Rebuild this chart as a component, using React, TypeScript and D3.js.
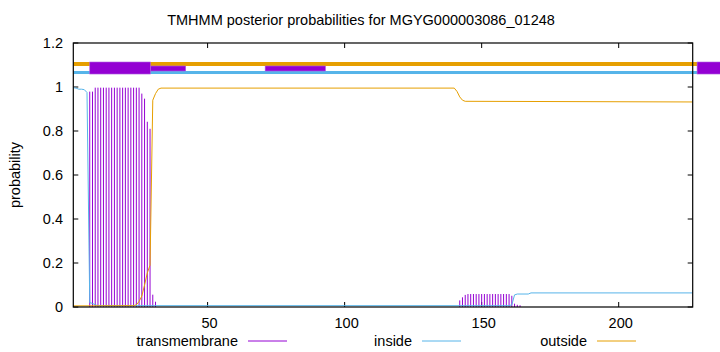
import React from "react";
import * as d3 from "d3";

const title = "TMHMM posterior probabilities for MGYG000003086_01248";
const seqLength = 227;
const xTicks = [50, 100, 150, 200];
const yTicks = [0, 0.2, 0.4, 0.6, 0.8, 1, 1.2];

// transmembrane posterior probability per residue (impulses), [residue, prob]
const tmResidues = [7, 8, 9, 10, 11, 12, 13, 14, 15, 16, 17, 18, 19, 20, 21, 22, 23, 24, 25, 26, 27, 28, 29, 30, 31,
  142, 143, 144, 145, 146, 147, 148, 149, 150, 151, 152, 153, 154, 155, 156, 157, 158, 159, 160, 161, 162, 163, 164];
const tmValues = [0.979, 0.979, 0.997, 0.997, 0.997, 0.997, 0.997, 0.997, 0.997, 0.997, 0.997, 0.997, 0.997, 0.997, 0.997, 0.997, 0.997, 0.997, 0.997, 0.97, 0.947, 0.842, 0.81, 0.056, 0.024,
  0.03, 0.044, 0.055, 0.059, 0.059, 0.059, 0.059, 0.059, 0.059, 0.059, 0.059, 0.059, 0.059, 0.059, 0.059, 0.059, 0.059, 0.059, 0.059, 0.051, 0.015, 0.01, 0.008];

// inside probability (line), breakpoints
const insideResidues = [1, 2, 3, 4, 5, 6, 7, 8, 9, 10, 160, 161, 162, 163, 167, 168, 227];
const insideValues = [0.997, 0.995, 0.99, 0.99, 0.988, 0.975, 0.02, 0.016, 0.01, 0.006, 0.006, 0.01, 0.055, 0.059, 0.059, 0.064, 0.064];

// outside probability (line), breakpoints
const outsideResidues = [1, 23, 24, 25, 26, 27, 28, 29, 30, 31, 32, 33, 140, 141, 142, 143, 144, 227];
const outsideValues = [0.005, 0.006, 0.01, 0.025, 0.05, 0.1, 0.155, 0.19, 0.94, 0.97, 0.99, 0.995, 0.995, 0.98, 0.955, 0.94, 0.935, 0.932];

// top topology strip (residue ranges)
const stripStart = 1;
const stripEnd = 228.6;
const tmBoxes = [[7, 29.1], [228.6, 240]];
const thinTmBoxes = [[29.1, 42], [71, 93]];
// strip levels in probability units
const outsideBand = [1.0955, 1.1136];
const insideBand = [1.059, 1.0727];

const legendItems = ["transmembrane", "inside", "outside"];

const C_TM = "#9400D3";
const C_IN = "#56B4E9";
const C_OUT = "#E69F00";

export default function App() {
  const W = 720, H = 352;
  const left = 73.3, right = 692.7, top = 43, bottom = 307;
  const x = d3.scaleLinear().domain([1, seqLength]).range([left, right]);
  const y = d3.scaleLinear().domain([0, 1.2]).range([bottom, top]);
  const font = "'Liberation Sans', Arial, sans-serif";
  const fs = 14.5;

  const line = d3.line<[number, number]>().x(d => x(d[0])).y(d => y(d[1]));
  const insidePts = insideResidues.map((r, i) => [r, insideValues[i]] as [number, number]);
  const outsidePts = outsideResidues.map((r, i) => [r, outsideValues[i]] as [number, number]);

  const legendX = [238, 412, 587];

  return (
    <svg width={W} height={H} style={{ position: "absolute", left: 0, top: 0, background: "#fff" }} fontFamily={font}>
      <rect x={0} y={0} width={W} height={H} fill="#fff" />
      <text x={361} y={25} fontSize={fs} textAnchor="middle">{title}</text>
      <text transform={`translate(20,175) rotate(-90)`} fontSize={fs} textAnchor="middle">probability</text>

      {/* ticks */}
      {yTicks.map(t => (
        <g key={"y" + t}>
          <line x1={left} x2={left + 5} y1={y(t)} y2={y(t)} stroke="#000" strokeWidth={1} />
          <line x1={right - 5} x2={right} y1={y(t)} y2={y(t)} stroke="#000" strokeWidth={1} />
          <text x={63} y={y(t) + 5} fontSize={fs} textAnchor="end">{t}</text>
        </g>
      ))}
      {xTicks.map(t => (
        <g key={"x" + t}>
          <line x1={x(t)} x2={x(t)} y1={bottom} y2={bottom - 5} stroke="#000" strokeWidth={1} />
          <line x1={x(t)} x2={x(t)} y1={top} y2={top + 5} stroke="#000" strokeWidth={1} />
          <text x={x(t) + 2} y={328} fontSize={fs} textAnchor="middle">{t}</text>
        </g>
      ))}

      {/* impulses */}
      {tmResidues.map((r, i) => (
        <line key={"tm" + r} x1={x(r)} x2={x(r)} y1={y(0)} y2={y(tmValues[i])} stroke={C_TM} strokeWidth={1} />
      ))}
      <path d={line(insidePts) || ""} fill="none" stroke={C_IN} strokeWidth={1} />
      <path d={line(outsidePts) || ""} fill="none" stroke={C_OUT} strokeWidth={1} />

      {/* topology strip */}
      <rect x={x(stripStart)} width={x(stripEnd) - x(stripStart)} y={y(outsideBand[1])} height={y(outsideBand[0]) - y(outsideBand[1])} fill={C_OUT} />
      <rect x={x(stripStart)} width={x(stripEnd) - x(stripStart)} y={y(insideBand[1])} height={y(insideBand[0]) - y(insideBand[1])} fill={C_IN} />
      {thinTmBoxes.map(([a, b], i) => (
        <rect key={"thin" + i} x={x(a)} width={x(b) - x(a)} y={y(outsideBand[0])} height={y(insideBand[1]) - y(outsideBand[0])} fill={C_TM} stroke="#b060e0" strokeWidth={0.6} />
      ))}
      {tmBoxes.map(([a, b], i) => (
        <rect key={"box" + i} x={x(a)} width={x(b) - x(a)} y={y(outsideBand[1])} height={y(insideBand[0]) - y(outsideBand[1])} fill={C_TM} stroke="#b060e0" strokeWidth={0.6} />
      ))}

      {/* frame */}
      <rect x={left} y={top} width={right - left} height={bottom - top} fill="none" stroke="#000" strokeWidth={1.2} />

      {/* legend */}
      {legendItems.map((name, i) => (
        <g key={name}>
          <text x={legendX[i]} y={346} fontSize={fs} textAnchor="end">{name}</text>
          <line x1={legendX[i] + 10} x2={legendX[i] + 49} y1={341} y2={341} stroke={[C_TM, C_IN, C_OUT][i]} strokeWidth={1} />
        </g>
      ))}
    </svg>
  );
}
